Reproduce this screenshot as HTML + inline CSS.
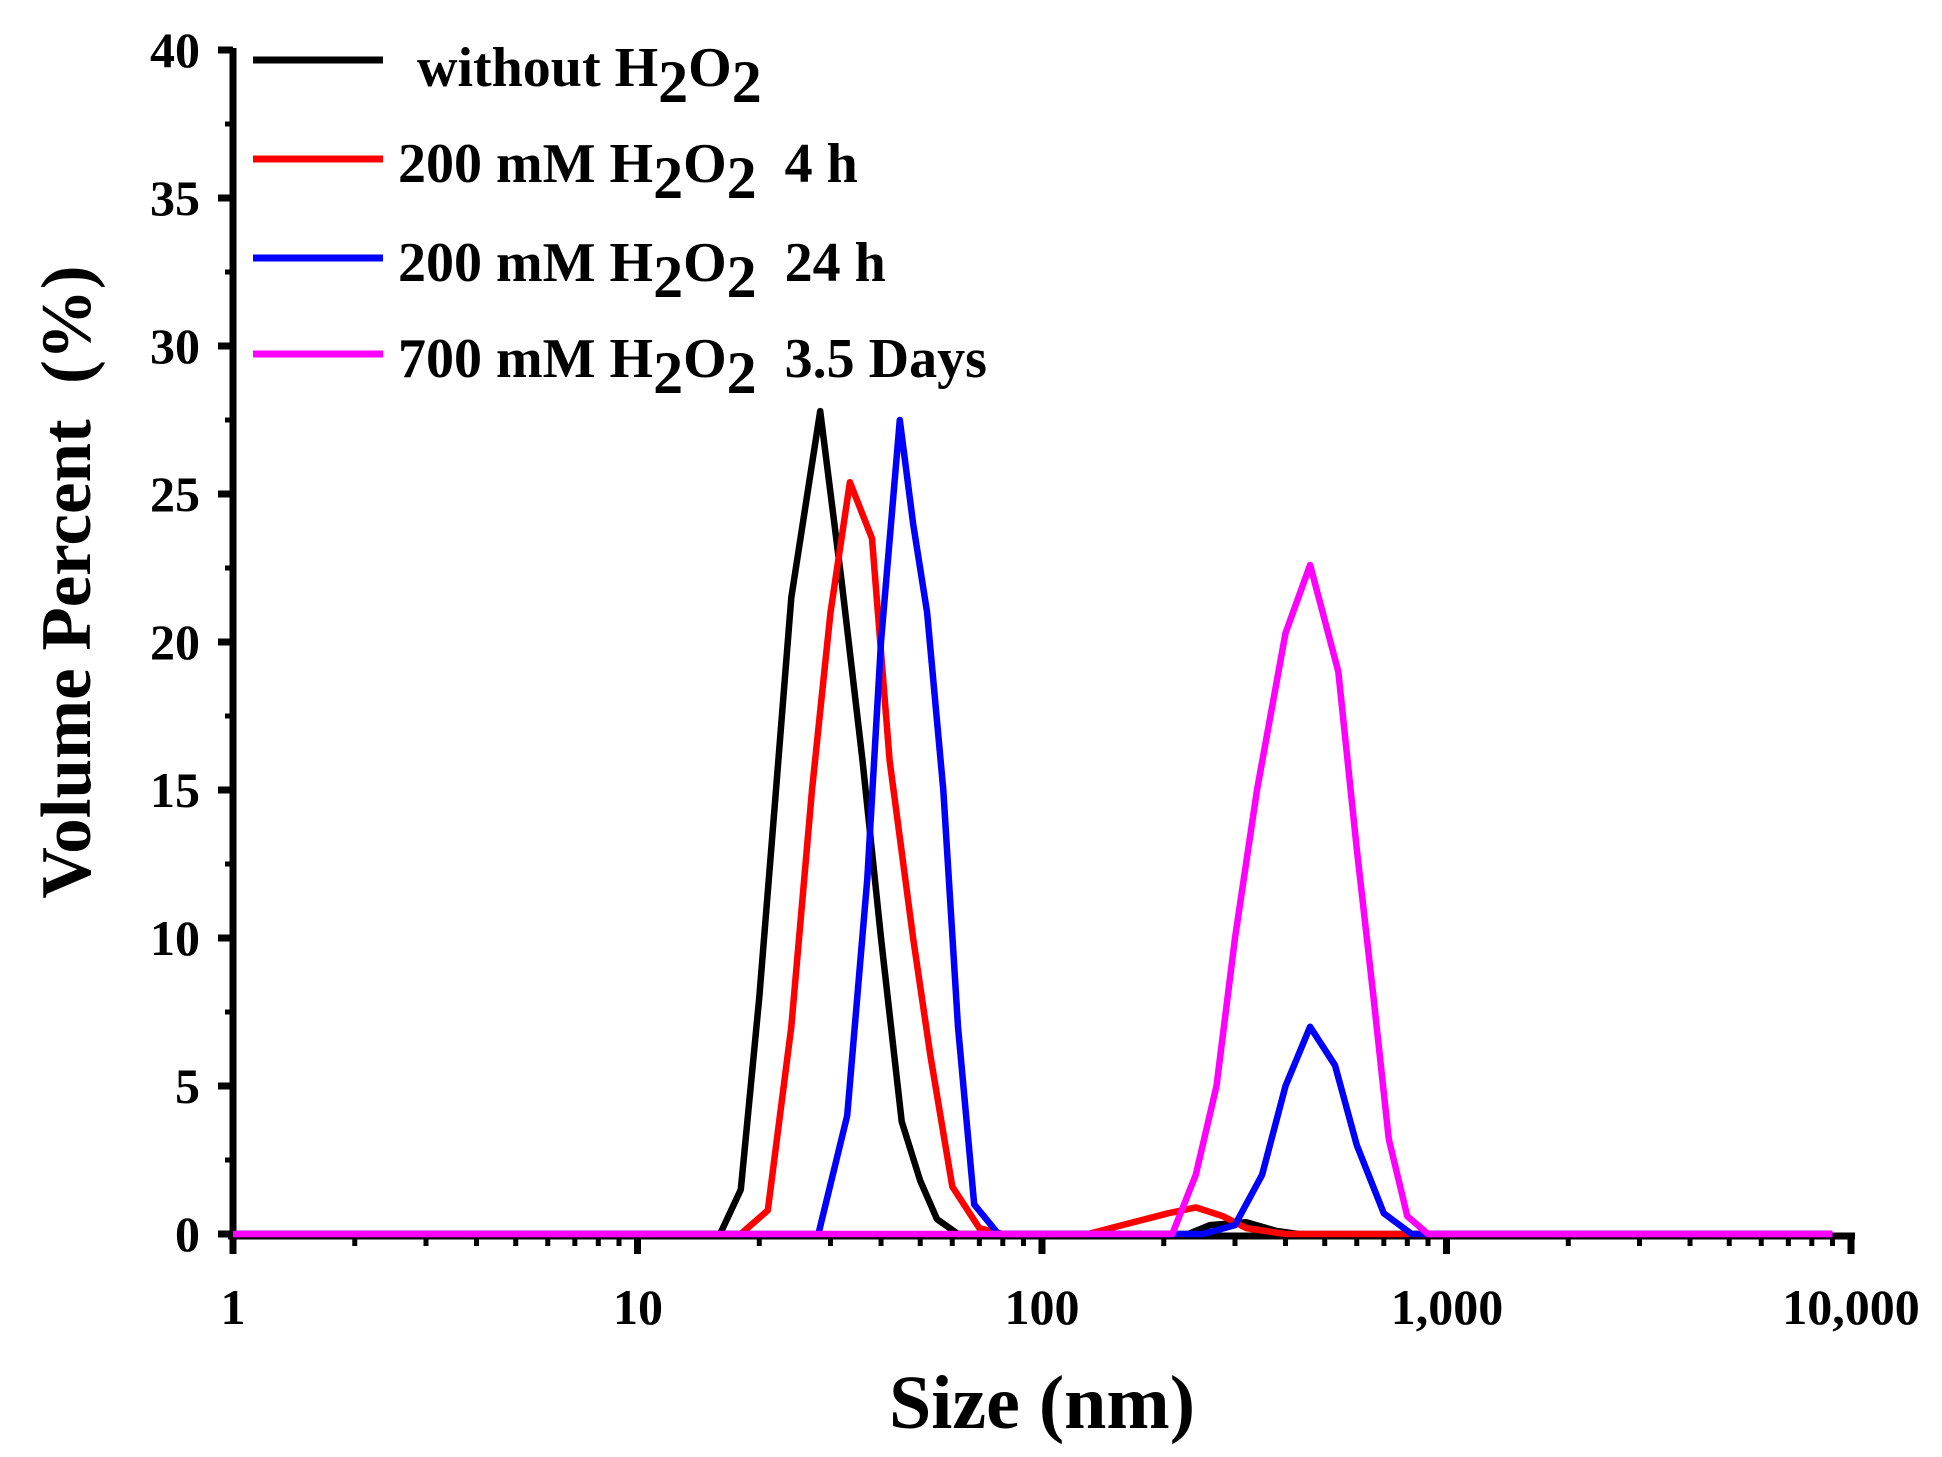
<!DOCTYPE html>
<html><head><meta charset="utf-8"><style>
html,body{margin:0;padding:0;background:#fff;}
svg{display:block}
text{font-family:"Liberation Serif",serif;font-weight:bold;fill:#000}
.lg text{white-space:pre}
</style></head><body>
<svg id="s" width="1942" height="1457" viewBox="0 0 1942 1457" xmlns="http://www.w3.org/2000/svg">
<g id="axes" stroke="#000" fill="none"></g>
<g id="series" fill="none" stroke-width="6.5" stroke-linejoin="round"></g>
<g font-size="50" text-anchor="end">
<text x="200" y="1251">0</text>
<text x="200" y="1103">5</text>
<text x="200" y="955">10</text>
<text x="200" y="807">15</text>
<text x="200" y="659">20</text>
<text x="200" y="511">25</text>
<text x="200" y="363">30</text>
<text x="200" y="215">35</text>
<text x="200" y="67">40</text>
</g>
<g font-size="50" text-anchor="middle">
<text x="233" y="1324">1</text>
<text x="638" y="1324">10</text>
<text x="1042" y="1324">100</text>
<text x="1447" y="1324">1,000</text>
<text x="1851" y="1324">10,000</text>
</g>
<text x="1042" y="1428" font-size="76" text-anchor="middle">Size (nm)</text>
<text transform="translate(90,582) rotate(-90)" font-size="71" text-anchor="middle" style="white-space:pre">Volume Percent  (%)</text>
<g stroke-width="7">
<line x1="253" y1="60" x2="383" y2="60" stroke="#000"/>
<line x1="253" y1="159" x2="383" y2="159" stroke="#f00"/>
<line x1="253" y1="258" x2="383" y2="258" stroke="#00f"/>
<line x1="253" y1="354" x2="383" y2="354" stroke="#f0f"/>
</g>
<g font-size="56" class="lg">
<text x="417" y="86">without H<tspan dy="16" font-size="60">2</tspan><tspan dy="-16">O</tspan><tspan dy="16" font-size="60">2</tspan></text>
<text x="398" y="182">200 mM H<tspan dy="16" font-size="60">2</tspan><tspan dy="-16">O</tspan><tspan dy="16" font-size="60">2</tspan><tspan dy="-16">  4 h</tspan></text>
<text x="398" y="281">200 mM H<tspan dy="16" font-size="60">2</tspan><tspan dy="-16">O</tspan><tspan dy="16" font-size="60">2</tspan><tspan dy="-16">  24 h</tspan></text>
<text x="398" y="377">700 mM H<tspan dy="16" font-size="60">2</tspan><tspan dy="-16">O</tspan><tspan dy="16" font-size="60">2</tspan><tspan dy="-16">  3.5 Days</tspan></text>
</g>
</svg>
<script>
(function(){
var NS="http://www.w3.org/2000/svg";
function X(v){return 233+404.5*Math.log10(v);}
function Y(v){return 1234-29.6*v;}
var ax=document.getElementById('axes'),h='';
h+='<line x1="233" y1="48" x2="233" y2="1240" stroke-width="7"/>';
h+='<line x1="228" y1="1236" x2="1855" y2="1236" stroke-width="7"/>';
for(var i=0;i<=40;i+=5){h+='<line x1="218" y1="'+Y(i)+'" x2="233" y2="'+Y(i)+'" stroke-width="7"/>';}
for(var i=2.5;i<40;i+=5){h+='<line x1="225" y1="'+Y(i)+'" x2="233" y2="'+Y(i)+'" stroke-width="5"/>';}
for(var d=0;d<4;d++){for(var k=1;k<10;k++){var x=X(k*Math.pow(10,d));
h+='<line x1="'+x+'" y1="1236" x2="'+x+'" y2="'+(k==1?1254:1246)+'" stroke-width="'+(k==1?7:5)+'"/>';}}
h+='<line x1="1851" y1="1236" x2="1851" y2="1254" stroke-width="7"/>';
ax.innerHTML=h;
var S=[
["#000",[[1,0],[16,0],[18,1.5],[20,8],[22,15],[24,21.5],[28.3,27.8],[32,22],[36,16],[40,10],[45,3.8],[50,1.8],[55,0.5],[62,0],[230,0],[260,0.3],[320,0.4],[380,0.1],[430,0],[9000,0]]],
["#f00",[[1,0],[18,0],[21,0.8],[24,7],[27,15],[30,21],[33.5,25.4],[38,23.5],[42,16],[48,10],[53,6],[60,1.6],[70,0.2],[80,0],[130,0],[180,0.5],[205,0.7],[240,0.9],[280,0.6],[320,0.2],[400,0],[9000,0]]],
["#00f",[[1,0],[28,0],[33,4],[37,12],[40,20],[44.5,27.5],[48,24],[52,21],[57,15],[62,7],[68,1],[78,0],[250,0],[300,0.3],[350,2],[400,5],[460,7],[530,5.7],[600,3],[700,0.7],[820,0],[9000,0]]],
["#f0f",[[1,0],[210,0],[240,2],[270,5],[300,10],[340,15],[400,20.3],[460,22.6],[540,19],[600,13],[660,8],[720,3.2],[800,0.6],[900,0],[9000,0]]]
];
var g=document.getElementById('series');
S.forEach(function(s){var p=document.createElementNS(NS,'polyline');
p.setAttribute('points',s[1].map(function(q){return X(q[0]).toFixed(1)+','+Y(q[1]).toFixed(1);}).join(' '));
p.setAttribute('stroke',s[0]);g.appendChild(p);});
})();
</script>
</body></html>
